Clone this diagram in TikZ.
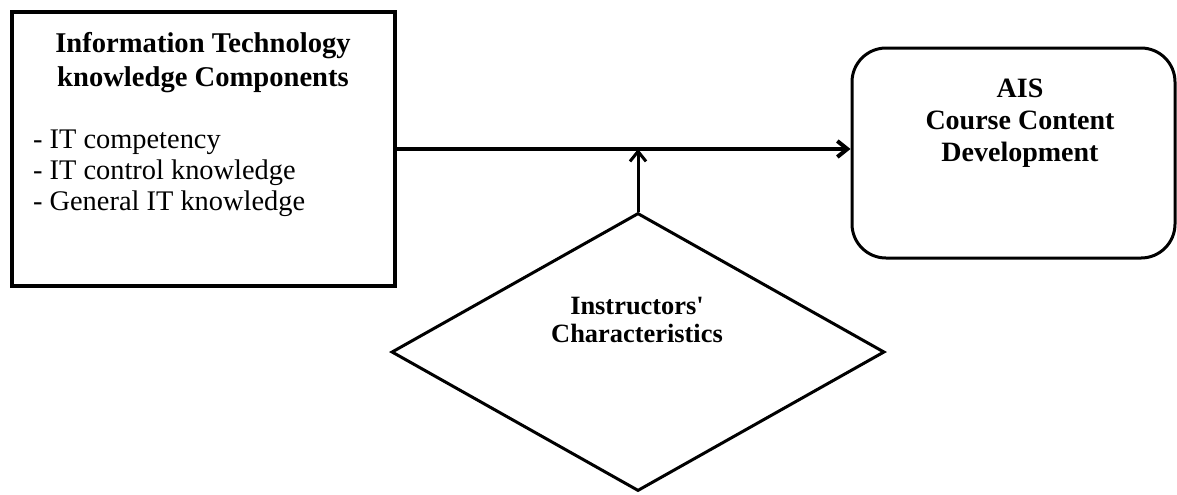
\documentclass[tikz,border=0pt]{standalone}
\usepackage{fontspec}
\setmainfont{Liberation Serif}
\newfontfamily\plainrm{Liberation Serif}
\usetikzlibrary{shapes.geometric, arrows.meta}

\tikzset{
    itbox/.style={draw, line width=2pt, minimum width=191.5pt, minimum height=137pt},
    aisbox/.style={draw, line width=1.5pt, rounded corners=17pt, minimum width=161.5pt, minimum height=105pt},
    instr/.style={draw, diamond, line width=1.5pt, minimum width=246.5pt, minimum height=139pt, inner sep=0pt},
    flow/.style={-{Straight Barb[length=5pt, width=8pt]}, line width=2pt},
}

\begin{document}
\begin{tikzpicture}[x=0.5pt, y=-0.5pt]
    \useasboundingbox (0,0) rectangle (1177,494);

    % Define the three blocks
    \node[itbox] (itk) at (203.5,149) {};
    \node[aisbox] (ais) at (1013.5,153) {};
    \node[instr] (ins) at (638,352) {};

    % Place the texts inside the blocks
    \node[align=center, font=\fontsize{14.3}{17}\selectfont\bfseries] (itktitle) at (203,63)
        {Information Technology\\knowledge Components};
    \node[align=left, anchor=west, font=\fontsize{14.2}{15.6}\selectfont] (itklist) at (26,173)
        {- IT competency\\- IT control knowledge\\- General IT knowledge};
    \node[align=center, font=\fontsize{14}{16}\selectfont\bfseries] (aistext) at (1020,123)
        {AIS\\Course Content\\Development};
    \node[align=center, font=\plainrm\fontsize{13.2}{14.3}\selectfont\bfseries] (instext) at (637,320)
        {Instructors'\\Characteristics};

    % Draw the arrows
    \draw[flow] (itk.east) -- (itk.east -| ais.west);
    \draw[flow, line width=1.5pt] (ins.north) -- (ins.north |- itk.east);
\end{tikzpicture}
\end{document}
